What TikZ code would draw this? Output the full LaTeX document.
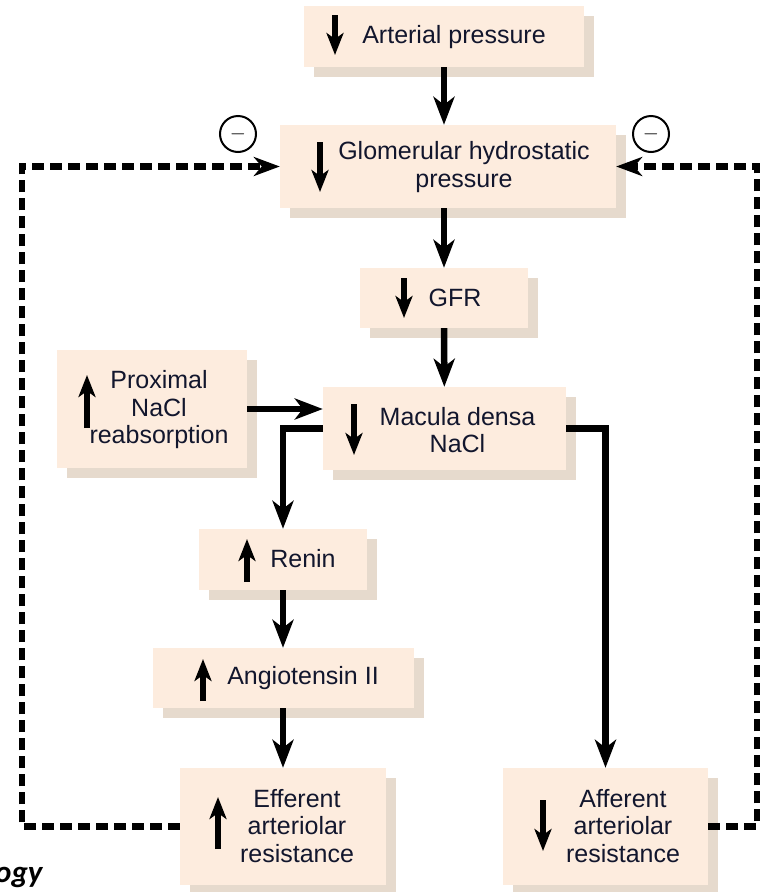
\documentclass[tikz,border=0pt]{standalone}
\usepackage{fontspec}
\setmainfont{Liberation Sans}
\newfontfamily\capfont{Carlito}
\usetikzlibrary{arrows.meta,shadows,calc}
\definecolor{boxc}{RGB}{253,236,222}
\definecolor{shadc}{RGB}{230,218,205}
\definecolor{textc}{RGB}{18,22,45}
\tikzset{
  box/.style={rectangle, fill=boxc, inner sep=0pt,
    drop shadow={shadow xshift=10pt, shadow yshift=-10pt, fill=shadc, opacity=1}},
  txt/.style={font=\fontsize{25}{27.5}\selectfont, text=textc, align=center, inner sep=0pt},
  conn/.style={line width=6.5pt, -{Stealth[length=28pt,width=21pt,inset=8pt]}},
  dsh/.style={line width=6.5pt, dash pattern=on 12pt off 6pt, line join=miter,
    -{Stealth[length=26pt,width=19pt,inset=8pt]}},
  sym/.style={line width=5.5pt, -{Stealth[length=22pt,width=17pt,inset=6pt]}},
  minus/.style={circle, draw, line width=2pt, minimum size=36pt, inner sep=0pt,
    font=\fontsize{20}{20}\selectfont}
}
\begin{document}
\begin{tikzpicture}[x=1pt,y=-1pt]
\useasboundingbox (0,0) rectangle (771,892);
% boxes
\node[box, minimum width=280pt, minimum height=61pt] (art) at (444,36.5) {};
\node[box, minimum width=336pt, minimum height=83pt] (glom) at (448,166.5) {};
\node[box, minimum width=168pt, minimum height=60pt] (gfr) at (444,298) {};
\node[box, minimum width=190pt, minimum height=118pt] (prox) at (152,409) {};
\node[box, minimum width=243pt, minimum height=83pt] (mac) at (444.5,428.5) {};
\node[box, minimum width=168pt, minimum height=61pt] (ren) at (283,559.5) {};
\node[box, minimum width=261pt, minimum height=60pt] (ang) at (283.5,678) {};
\node[box, minimum width=206pt, minimum height=117pt] (eff) at (283,826.5) {};
\node[box, minimum width=205pt, minimum height=117pt] (aff) at (605.5,826.5) {};
% texts
\node[txt] (tart) at (454,37) {Arterial pressure};
\node[txt] (tglom) at (464,167) {Glomerular hydrostatic\\pressure};
\node[txt] (tgfr) at (455,298) {GFR};
\node[txt] (tprox) at (159,410) {Proximal\\NaCl\\reabsorption};
\node[txt] (tmac) at (457.5,430) {Macula densa\\NaCl};
\node[txt] (tren) at (303,559) {Renin};
\node[txt] (tang) at (303,678) {Angiotensin II};
\node[txt] (teff) at (297,826) {Efferent\\arteriolar\\resistance};
\node[txt] (taff) at (623,826) {Afferent\\arteriolar\\resistance};
% symbol arrows inside boxes
\draw[sym] (335,15) -- (335,55);
\draw[sym] (320,142) -- (320,192);
\draw[sym] (404,278) -- (404,318);
\draw[sym] (87,428) -- (87,375);
\draw[sym] (354,404) -- (354,455);
\draw[sym] (247,582) -- (247,539);
\draw[sym] (203,701) -- (203,659);
\draw[sym] (218,849) -- (218,797);
\draw[sym] (543,800) -- (543,851);
% connectors
\draw[conn] (art.south) -- (art.south |- glom.north);
\draw[conn] (glom.south -| gfr.north) -- (gfr.north);
\draw[conn] (gfr) -- (mac);
\draw[conn] (prox.east) -- (prox.east -| mac.west);
\draw[conn] (mac.west) -| (ren.north);
\draw[conn] (mac.east) -| (aff.north);
\draw[conn] (ren) -- (ren |- ang.north);
\draw[conn] (ang.south -| eff.north) -- (eff.north);
% feedback
\coordinate (lc) at (22,500);
\coordinate (rc) at (757,500);
\draw[dsh] (eff.west) -- (eff.west -| lc) -- (lc |- glom.west) -- (glom.west);
\draw[dsh] (aff.east) -- (aff.east -| rc) -- (rc |- glom.east) -- (glom.east);
\node[minus] (m1) at (238,134) {$-$};
\node[minus] (m2) at (651,134) {$-$};
% cropped caption fragment
\node[anchor=base west, inner sep=0pt, font=\capfont\bfseries\itshape\fontsize{31}{31}\selectfont] (cap) at (-5,882) {ogy};
\end{tikzpicture}
\end{document}
